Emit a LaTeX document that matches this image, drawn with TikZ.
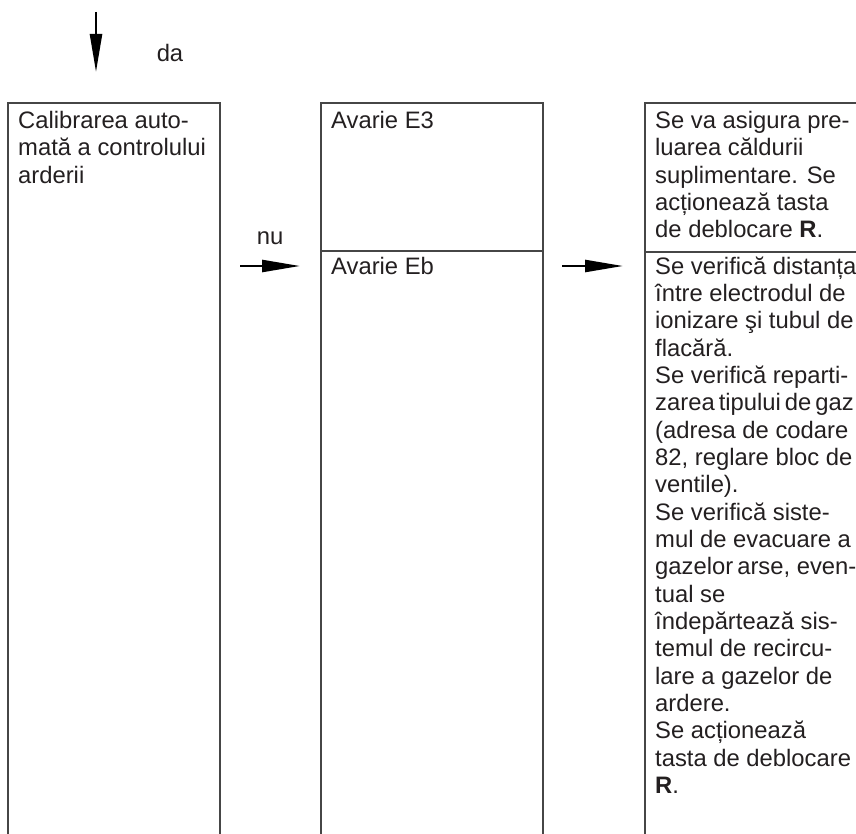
\documentclass[tikz,border=0pt]{standalone}
\usepackage{fontspec}
\setmainfont{Liberation Sans}
\usetikzlibrary{arrows.meta}
\definecolor{linec}{RGB}{70,70,70}
\definecolor{txtc}{RGB}{35,31,32}
\tikzset{
  boxline/.style={draw=linec, line width=1.3pt},
  celltext/.style={anchor=base west, inner sep=0pt, text=txtc,
    font=\fontsize{23.8}{27.35}\selectfont},
  lbl/.style={inner sep=0pt, text=txtc, font=\fontsize{23.8}{27.35}\selectfont},
  arr/.style={draw=black, line width=2.4pt, -{Triangle[length=38pt,width=12pt]}},
}
\newcommand{\celltxt}[1]{\parbox[t]{300pt}{#1}}
\newcommand{\tightsp}[1]{{\spaceskip=0.17em plus 0pt minus 0pt\relax #1}}
\begin{document}
\begin{tikzpicture}[x=1pt,y=-1pt]
\useasboundingbox (0,0) rectangle (856,834);

% boxes (open at the bottom)
\draw[boxline] (8,834) -- (8,103) -- (220,103) -- (220,834);
\draw[boxline] (321,834) -- (321,103) -- (543,103) -- (543,834);
\draw[boxline] (321,251) -- (543,251);
\draw[boxline] (645,834) -- (645,103) -- (860,103);
\draw[boxline] (645,252) -- (860,252);

% top arrow
\coordinate (a0s) at (96,12);
\coordinate (a0e) at (96,72);
\draw[arr] (a0s) -- (a0e);
\node[lbl] (da) at (170,53) {da};

% horizontal arrows
\coordinate (a1s) at (240,266);
\coordinate (a1e) at (300,266);
\draw[arr] (a1s) -- (a1e);
\node[lbl] (nu) at (270,238) {nu};
\coordinate (a2s) at (562,266);
\coordinate (a2e) at (623,266);
\draw[arr] (a2s) -- (a2e);

% texts
\node[celltext] (t1) at (18,128.5) {\celltxt{Calibrarea auto-\\mată a controlului\\arderii}};
\node[celltext] (e3) at (331,128.5) {\celltxt{Avarie E3}};
\node[celltext] (eb) at (331,274) {\celltxt{Avarie Eb}};
\node[celltext] (s1) at (655,128.5) {\celltxt{Se va asigura pre-\\luarea căldurii\\suplimentare. Se\\acționează tasta\\de deblocare \textbf{R}.}};
\node[celltext] (s2) at (655,274) {\celltxt{Se verifică distanța\\între electrodul de\\ionizare şi tubul de\\flacără.\\Se verifică reparti-\\\tightsp{zarea tipului de gaz}\\(adresa de codare\\82, reglare bloc de\\ventile).\\Se verifică siste-\\mul de evacuare a\\\tightsp{gazelor arse,} even-\\tual se\\îndepărtează sis-\\temul de recircu-\\lare a gazelor de\\ardere.\\Se acționează\\tasta de deblocare\\\textbf{R}.}};
\end{tikzpicture}
\end{document}
